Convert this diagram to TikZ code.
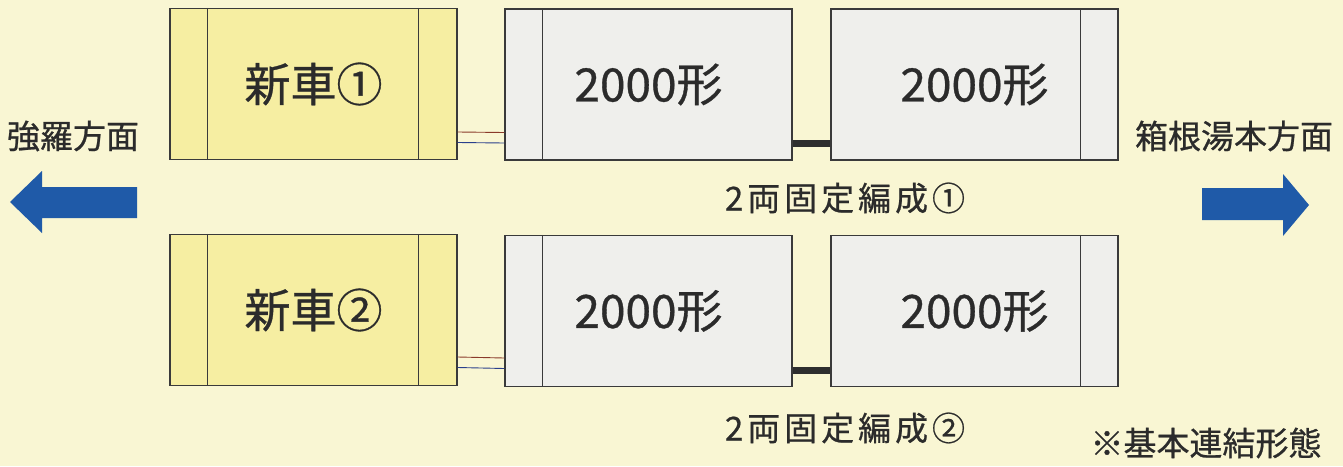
\documentclass[tikz,border=0pt]{standalone}
\usepackage{fontspec}
\setmainfont{Noto Sans CJK JP}[FakeBold=0.7]
\usetikzlibrary{positioning}

\definecolor{bgyellow}{HTML}{F9F6D3}
\definecolor{caryellow}{HTML}{F6EEA2}
\definecolor{cargray}{HTML}{EFEFEC}
\definecolor{linegray}{HTML}{3A3A3A}
\definecolor{textgray}{HTML}{2B2B2B}
\definecolor{arrowblue}{HTML}{1F5AA8}
\definecolor{wirered}{HTML}{8A3A2A}
\definecolor{wireblue}{HTML}{2A3F8C}

\begin{document}
\begin{tikzpicture}[x=1pt,y=-1pt,
        car/.style={draw=linegray,line width=1.3pt,minimum width=287pt,minimum height=151pt,
                    inner sep=0pt,text=textgray,font=\fontsize{46}{46}\selectfont},
        newcar/.style={car,fill=caryellow},
        oldcar/.style={car,fill=cargray},
        caption/.style={text=textgray,font=\fontsize{33}{33}\selectfont},
        wire/.style={line width=0.9pt},
        coupler/.style={line width=7pt,draw=linegray!80!black}]
        \useasboundingbox[fill=bgyellow] (0,0) rectangle (1343,466);

        % upper train
        \node[newcar] (new1) at (313.5,84) {新車①};
        \node[oldcar] (old1a) at (648.5,84.5) {2000形};
        \node[oldcar] (old1b) at (974.5,84.5) {2000形};
        % lower train
        \node[newcar] (new2) at (313.5,310) {新車②};
        \node[oldcar] (old2a) at (648.5,311) {2000形};
        \node[oldcar] (old2b) at (974.5,311) {2000形};

        % cab lines
        \foreach \c in {new1,new2} {
                \draw[linegray,line width=1.3pt] ([xshift=38pt]\c.north west) -- ([xshift=38pt]\c.south west);
                \draw[linegray,line width=1.3pt] ([xshift=-39pt]\c.north east) -- ([xshift=-39pt]\c.south east);
        }
        \foreach \c in {old1a,old2a}
                \draw[linegray,line width=1.3pt] ([xshift=38pt]\c.north west) -- ([xshift=38pt]\c.south west);
        \foreach \c in {old1b,old2b}
                \draw[linegray,line width=1.3pt] ([xshift=-38pt]\c.north east) -- ([xshift=-38pt]\c.south east);

        % couplings
        \draw[wire,wirered] ([yshift=-48pt]new1.east) -- ([yshift=-48pt]old1a.west);
        \draw[wire,wireblue] ([yshift=-58.5pt]new1.east) -- ([yshift=-58.5pt]old1a.west);
        \draw[coupler] ([yshift=-58.5pt]old1a.east) -- ([yshift=-58.5pt]old1b.west);
        \draw[wire,wirered] ([yshift=-47pt]new2.east) -- ([yshift=-47pt]old2a.west);
        \draw[wire,wireblue] ([yshift=-57.5pt]new2.east) -- ([yshift=-57.5pt]old2a.west);
        \draw[coupler] ([yshift=-59pt]old2a.east) -- ([yshift=-59pt]old2b.west);

        % captions
        \node[caption,font=\fontsize{33}{33}\selectfont\addfontfeature{LetterSpace=12}] (form1) at (845,198) {2両固定編成①};
        \node[caption,font=\fontsize{33}{33}\selectfont\addfontfeature{LetterSpace=12}] (form2) at (845,428) {2両固定編成②};
        \node[caption] (west) at (73,136) {強羅方面};
        \node[caption] (east) at (1234,136) {箱根湯本方面};
        \node[caption] (note) at (1206,443) {※基本連結形態};

        % direction arrows
        \fill[arrowblue] (10,202) -- (42,171) -- (42,187) -- (137,187)
                -- (137,218) -- (42,218) -- (42,233) -- cycle;
        \fill[arrowblue] (1309,205) -- (1283,174) -- (1283,188) -- (1202,188)
                -- (1202,220) -- (1283,220) -- (1283,236) -- cycle;
\end{tikzpicture}
\end{document}
